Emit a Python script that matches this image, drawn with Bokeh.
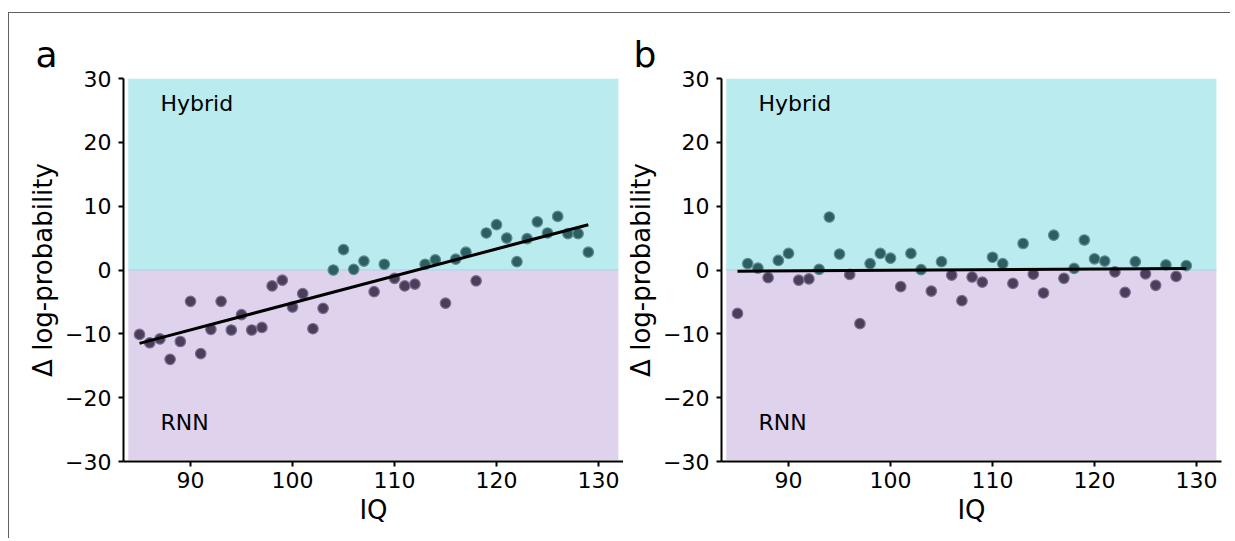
from bokeh.plotting import figure
from bokeh.layouts import row
from bokeh.models import FixedTicker, Label, ColumnDataSource
from bokeh.embed import file_html
from bokeh.resources import INLINE

# ---------------- data ----------------
iq = list(range(85, 130))
delta_a = [-10.1, -11.4, -10.8, -14.0, -11.2, -4.9, -13.1, -9.3, -4.9, -9.4,
           -7.0, -9.4, -9.0, -2.5, -1.6, -5.8, -3.7, -9.2, -6.0, 0.0,
           3.2, 0.1, 1.4, -3.4, 0.9, -1.3, -2.5, -2.2, 0.9, 1.6,
           -5.2, 1.7, 2.8, -1.7, 5.8, 7.1, 5.0, 1.3, 4.9, 7.55,
           5.8, 8.4, 5.7, 5.7, 2.8]
delta_b = [-6.8, 1.0, 0.3, -1.2, 1.5, 2.6, -1.6, -1.4, 0.1, 8.3,
           2.5, -0.7, -8.4, 1.0, 2.6, 1.85, -2.6, 2.6, 0.05, -3.3,
           1.3, -0.8, -4.8, -1.1, -1.9, 2.0, 1.0, -2.1, 4.15, -0.65,
           -3.6, 5.45, -1.3, 0.25, 4.7, 1.75, 1.4, -0.3, -3.5, 1.3,
           -0.6, -2.4, 0.8, -1.0, 0.7]
fit_x = [85, 129]
fit_a = [-11.5, 7.1]
fit_b = [-0.2, 0.25]

x_ticks = [90, 100, 110, 120, 130]
y_ticks = [-30, -20, -10, 0, 10, 20, 30]
y_tick_labels = ["\u221230", "\u221220", "\u221210", "0", "10", "20", "30"]
panel_letters = ["a", "b"]
region_labels = ["Hybrid", "RNN"]

FONT = "DejaVu Sans"
CYAN_BG = "#b9ebef"
PURPLE_BG = "#dfd2ec"
TEAL = "#2d5f62"
TEAL_EDGE = "#5f8f91"
PURP = "#4b3e5c"
PURP_EDGE = "#7d6e8e"


def make_panel(values, fit_y, letter, left_border, right_border):
    p = figure(output_backend="svg", toolbar_location=None,
               frame_width=500, frame_height=383,
               min_border_left=left_border, min_border_right=right_border,
               min_border_top=65, min_border_bottom=78,
               x_range=(83.43, 132.45), y_range=(-30, 30))
    p.background_fill_color = "white"
    p.border_fill_color = "white"
    p.outline_line_color = None
    p.xgrid.visible = False
    p.ygrid.visible = False

    # panel letter as title
    p.title.text = letter
    p.title.text_font = FONT
    p.title.text_font_size = "36px"
    p.title.text_font_style = "normal"
    p.title.text_color = "black"
    p.title.align = "left"
    p.title.offset = -88
    p.title.standoff = 8

    # shaded regions
    p.quad(left=[83.9], right=[131.95], bottom=[0], top=[30],
           fill_color=CYAN_BG, line_color=None)
    p.quad(left=[83.9], right=[131.95], bottom=[-29.8], top=[0],
           fill_color=PURPLE_BG, line_color=None)
    p.line([83.9, 131.95], [0, 0], line_color="#c4d4ea", line_width=2)

    cols = [TEAL if v >= 0 else PURP for v in values]
    edges = [TEAL_EDGE if v >= 0 else PURP_EDGE for v in values]
    src = ColumnDataSource(dict(x=iq, y=values, c=cols, e=edges))
    p.scatter("x", "y", source=src, size=10.5, fill_color="c",
              line_color="e", line_width=1.2)

    p.line(fit_x, fit_y, line_color="black", line_width=3)

    for txt, yy in zip(region_labels, [26.1, -23.9]):
        p.add_layout(Label(x=87.06, y=yy, text=txt, text_font=FONT,
                           text_font_size="22px", text_align="left",
                           text_baseline="middle", text_color="black"))

    for ax in (p.xaxis, p.yaxis):
        ax.axis_line_width = 2
        ax.axis_line_color = "black"
        ax.major_tick_line_width = 2
        ax.major_tick_line_color = "black"
        ax.major_tick_in = 0
        ax.major_tick_out = 5
        ax.minor_tick_line_color = None
        ax.major_label_text_font = FONT
        ax.major_label_text_font_size = "22px"
        ax.major_label_text_color = "black"
        ax.axis_label_text_font = FONT
        ax.axis_label_text_font_size = "26px"
        ax.axis_label_text_font_style = "normal"
        ax.axis_label_text_color = "black"

    p.xaxis.ticker = FixedTicker(ticks=x_ticks)
    p.yaxis.ticker = FixedTicker(ticks=y_ticks)
    p.yaxis.major_label_overrides = {t: l for t, l in zip(y_ticks, y_tick_labels)}
    p.xaxis.axis_label = "IQ"
    p.yaxis.axis_label = "\u0394 log-probability"
    p.xaxis.major_label_standoff = 5
    p.xaxis.axis_label_standoff = 4
    p.yaxis.major_label_standoff = 7
    p.yaxis.axis_label_standoff = 4
    return p


p1 = make_panel(delta_a, fit_a, panel_letters[0], 114, 0)
p2 = make_panel(delta_b, fit_b, panel_letters[1], 94, 10)

layout = row(p1, p2, styles={"box-shadow": "-1px -1px 0 0 #606060",
                             "margin-top": "13px",
                             "margin-left": "9px"})

open("out.html", "w").write(file_html(layout, INLINE))
